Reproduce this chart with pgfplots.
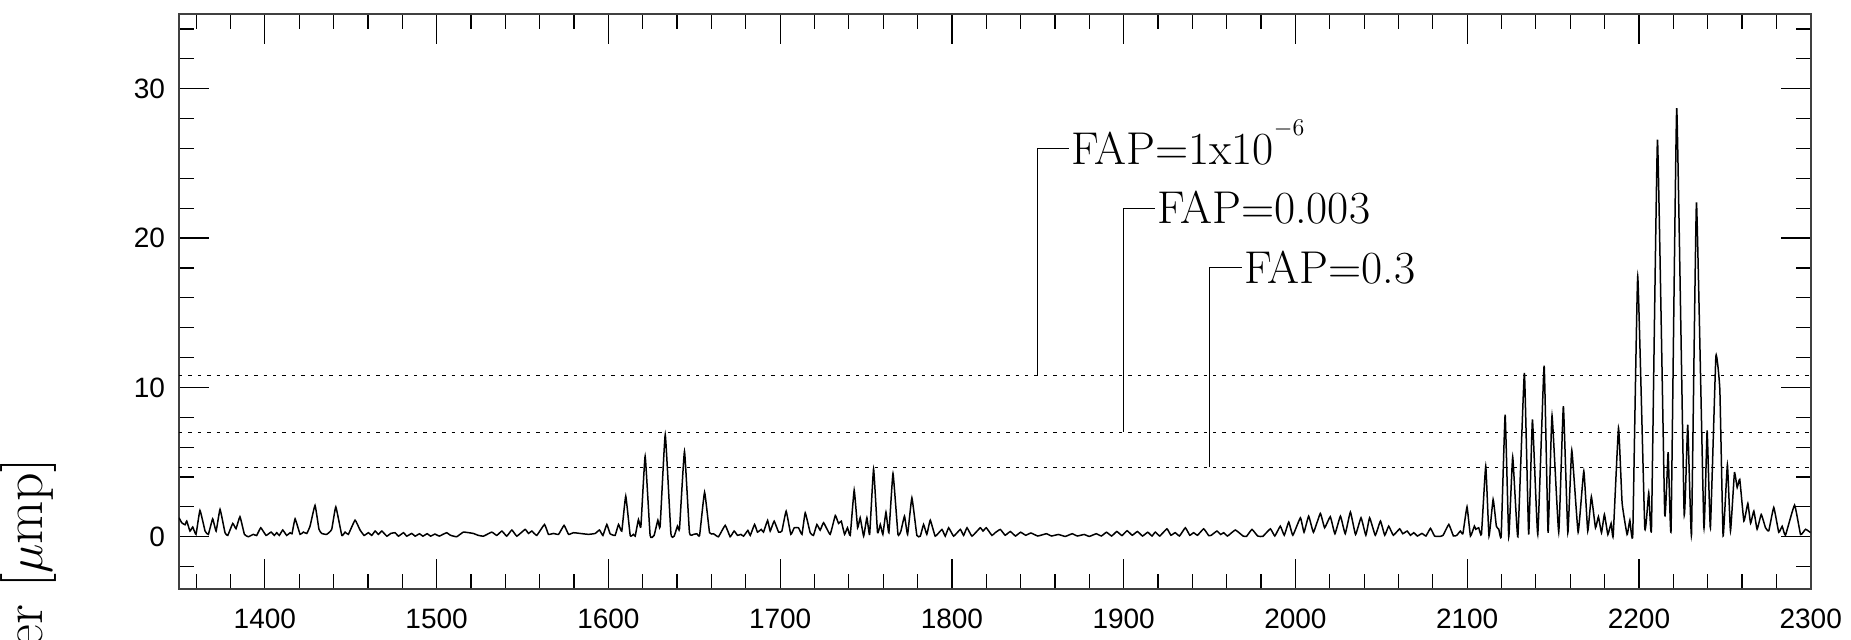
\documentclass[border=0pt]{standalone}
\usepackage{fontspec}
\usepackage{pgfplots}
\pgfplotsset{compat=1.18}
\newfontfamily\arial{Liberation Sans}
\begin{document}
\begin{tikzpicture}
\begin{axis}[
  at={(0,0)}, anchor=south west,
  scale only axis, width=815.85pt, height=287.5pt,
  xmin=1350, xmax=2300, ymin=-3.5, ymax=35,
  xtick={1400,1500,...,2300},
  minor xtick={1360,1380,...,2280},
  ytick={0,10,20,30},
  minor ytick={-2,2,4,6,8,12,14,16,18,22,24,26,28,32,34},
  tick align=inside,
  major tick length=15pt, minor tick length=7.5pt,
  tick style={black, line width=0.6pt},
  axis line style={line width=1pt, black!75},
  ticklabel style={font=\arial\fontsize{14}{16}\selectfont},
  /pgf/number format/assume math mode=true,
  /pgf/number format/1000 sep={},
  xticklabel style={yshift=-6.5pt},
  yticklabel style={xshift=-3.5pt},
]
% FAP levels
\addplot[black, line width=0.5pt, dash pattern=on 1.7pt off 3pt] coordinates {(1350,10.8) (2300,10.8)};
\addplot[black, line width=0.5pt, dash pattern=on 1.7pt off 3pt] coordinates {(1350,7.0) (2300,7.0)};
\addplot[black, line width=0.5pt, dash pattern=on 1.7pt off 3pt] coordinates {(1350,4.65) (2300,4.65)};
% leaders
\addplot[black, line width=0.5pt] coordinates {(1850,10.8) (1850,26) (1868,26)};
\addplot[black, line width=0.5pt] coordinates {(1900,7.0) (1900,22) (1918,22)};
\addplot[black, line width=0.5pt] coordinates {(1950,4.65) (1950,18) (1969,18)};
\node[anchor=base west, inner sep=0, xshift=1.2pt, yshift=-7.9pt, font=\fontsize{23}{23}\selectfont] at (axis cs:1868,26) {FAP=1x10\raisebox{0.62em}{\fontsize{12}{12}\selectfont$-$6}};
\node[anchor=base west, inner sep=0, xshift=1.2pt, yshift=-7.9pt, font=\fontsize{23}{23}\selectfont] at (axis cs:1918,22) {FAP=0.003};
\node[anchor=base west, inner sep=0, xshift=1.2pt, yshift=-7.9pt, font=\fontsize{23}{23}\selectfont] at (axis cs:1969,18) {FAP=0.3};
% periodogram
\addplot[black, line width=0.75pt, smooth, tension=0.2] coordinates {
(1350,1.27) (1351.6,0.94) (1353.5,0.8) (1354.5,1.05) (1356.4,0.38) (1358,0.65) (1359.9,0.16)
(1362.2,1.76) (1365.2,0.38) (1367.1,0.16) (1369.6,1.2) (1371.6,0.38) (1373.9,1.83) (1376.8,0.27)
(1378.4,0.09) (1381.3,0.89) (1383.2,0.54) (1385.5,1.34) (1388.1,0.16) (1390.4,0.0) (1393.3,0.16)
(1395.2,0.08) (1397.6,0.6) (1400.7,0.09) (1403.6,0.31) (1405.5,0.09) (1406.9,0.27) (1408.4,0.09)
(1410.4,0.45) (1412.7,0.09) (1414.7,0.27) (1415.8,0.2) (1417.6,1.2) (1420.5,0.16) (1422.4,0.31)
(1424.4,0.22) (1426.3,0.71) (1429.2,2.1) (1431.5,0.5) (1433.1,0.22) (1436,0.16) (1438.9,0.49)
(1441.3,2.0) (1444.8,0.09) (1446.7,0.31) (1448.6,0.16) (1452.5,1.11) (1455.4,0.45) (1457.8,0.09)
(1460.3,0.27) (1462.2,0.09) (1464.2,0.38) (1466.1,0.16) (1468.1,0.38) (1471,0.04) (1473.3,0.22)
(1475.8,0.27) (1477.8,0.04) (1480.7,0.27) (1482.6,0.04) (1485.5,0.22) (1487.5,0.04) (1490,0.2)
(1492,0.04) (1494.5,0.2) (1496.5,0.04) (1499,0.18) (1501.5,0.04) (1503.5,0.15) (1505.9,0.27)
(1508,0.1) (1511.7,0.0) (1515.6,0.31) (1521.4,0.22) (1524,0.1) (1527.3,0.04) (1532.1,0.31)
(1535,0.09) (1538,0.38) (1540.8,0.04) (1543.8,0.45) (1546.7,0.04) (1551.5,0.49) (1553.5,0.22)
(1555.4,0.38) (1558.3,0.09) (1562.8,0.82) (1565.1,0.16) (1568,0.22) (1571,0.16) (1574.2,0.76)
(1576.8,0.16) (1579.7,0.27) (1583.6,0.22) (1588.4,0.16) (1592.3,0.22) (1594.8,0.45) (1596.8,0.09)
(1599.1,0.82) (1601,0.2) (1603.9,0.09) (1605.9,0.82) (1607.8,0.38) (1610.1,2.72) (1612.7,0.09)
(1614.6,0.16) (1615.6,0.04) (1617.5,1.15) (1618.9,0.66) (1621.4,5.39) (1624.3,0.09) (1626.6,0.09)
(1628.8,1.11) (1630.1,0.66) (1633.1,6.84) (1636.4,0.2) (1638.3,0.04) (1640.2,0.71) (1641.4,0.53)
(1644.3,5.72) (1647.2,0.27) (1649.6,0.16) (1651.5,0.2) (1653.1,0.09) (1656,2.98) (1658.9,0.27)
(1661.2,0.2) (1664.1,0.0) (1668,0.76) (1670.9,0.0) (1673.2,0.38) (1675.2,0.09) (1677.1,0.16)
(1678.7,0.04) (1681.2,0.42) (1682.6,0.09) (1685.1,0.82) (1686.8,0.31) (1689,0.49) (1690.3,0.31)
(1692.7,1.09) (1694.2,0.38) (1696.5,1.04) (1699.1,0.31) (1701,0.38) (1703.5,1.71) (1706.2,0.16)
(1708.2,0.6) (1710.7,0.6) (1712.7,0.16) (1714.6,1.6) (1717.5,0.27) (1719.4,0.09) (1721.4,0.82)
(1723.3,0.44) (1725.3,0.94) (1729.1,0.16) (1732.1,1.42) (1734,0.89) (1735.6,1.04) (1737.5,0.16)
(1739.2,0.6) (1740.8,0.09) (1743.1,3.12) (1745.1,0.6) (1746.6,1.27) (1748.6,0.04) (1750.5,1.27)
(1752.1,0.16) (1754.4,4.54) (1756.7,0.27) (1758.3,0.82) (1759.8,0.16) (1761.6,1.64) (1763.3,0.27)
(1765.7,4.23) (1768.6,0.16) (1770.3,0.38) (1772.4,1.38) (1774.2,0.16) (1776.7,2.6) (1779.6,0.09)
(1781.6,0.04) (1783.5,0.82) (1785.4,0.16) (1787.4,1.11) (1790.3,0.04) (1794.2,0.49) (1796.1,0.04)
(1798.1,0.6) (1801,0.04) (1804.9,0.49) (1806.8,0.09) (1808.8,0.6) (1811.7,0.04) (1816.5,0.6)
(1818.1,0.38) (1820,0.6) (1823.3,0.09) (1825.2,0.27) (1828.2,0.49) (1831,0.1) (1834,0.35)
(1837,0.05) (1840,0.3) (1843,0.1) (1846,0.25) (1850,0.05) (1855,0.2) (1858,0.05) (1862,0.15)
(1866,0.02) (1870,0.2) (1873,0.05) (1877,0.15) (1880,0.02) (1884,0.2) (1887,0.05) (1890,0.3)
(1893,0.05) (1896,0.35) (1899,0.08) (1902,0.4) (1905,0.1) (1908,0.35) (1911,0.05) (1914,0.3)
(1916.5,0.05) (1918.4,0.31) (1921,0.05) (1925.2,0.53) (1927.5,0.1) (1930,0.27) (1932.5,0.05)
(1935.9,0.6) (1938.5,0.1) (1940.7,0.27) (1943,0.1) (1946.6,0.53) (1949.5,0.08) (1951,0.1)
(1954.3,0.38) (1956.5,0.15) (1958.2,0.27) (1960.5,0.05) (1965,0.45) (1969.5,0.05) (1971.5,0.02)
(1974.7,0.49) (1978,0.05) (1981,0.02) (1985.4,0.53) (1988,0.05) (1991.2,0.71) (1993.5,0.1)
(1996.1,0.98) (1998.5,0.1) (2002.9,1.27) (2005,0.3) (2007.7,1.38) (2010.5,0.3) (2014.5,1.56)
(2017,0.6) (2020.3,1.34) (2023,0.2) (2026.2,1.38) (2029,0.2) (2032,1.65) (2035,0.15)
(2038.2,1.27) (2041,0.1) (2043.2,1.27) (2046.5,0.1) (2049.5,1.05) (2052,0.1) (2054.3,0.71)
(2057,0.1) (2060.7,0.53) (2062.5,0.2) (2065,0.38) (2067,0.1) (2068.9,0.27) (2071,0.05)
(2073.7,0.22) (2076,0.05) (2078.6,0.56) (2081,0.05) (2084,0.02) (2086,0.1) (2089.3,0.82)
(2092,0.05) (2094,0.1) (2096,0.38) (2097.5,0.2) (2099.9,2.0) (2101.9,0.05) (2104.2,0.71)
(2105,0.5) (2106.7,0.6) (2108.3,0.15) (2110.8,4.73) (2112.7,0.05) (2115.1,2.5) (2117,0.7)
(2118.4,0.5) (2119.8,0.05) (2122.1,8.18) (2124.2,0.0) (2126.5,5.35) (2129.5,0.0) (2133.3,10.97)
(2135.8,0.15) (2138,7.85) (2141.1,0.15) (2144.8,11.46) (2147.1,0.27) (2149.4,8.12) (2153.3,0.3)
(2156,8.74) (2158.6,0.27) (2160.9,5.8) (2164.6,0.3) (2167.9,4.4) (2170.2,0.38) (2172.3,2.68)
(2174.7,0.6) (2176.4,1.34) (2178.2,0.27) (2179.9,1.49) (2181.9,0.15) (2183.8,0.9) (2185,0.05)
(2188.1,7.29) (2190.2,2.27) (2193.1,0.15) (2194.7,1.1) (2196.4,0.15) (2199.3,17.44) (2203.4,0.6)
(2205.7,2.95) (2207.3,0.6) (2210.8,26.58) (2215,1.56) (2217,5.66) (2218.7,0.45) (2222,28.7)
(2226.3,1.56) (2228.4,7.5) (2230.6,0.15) (2233.5,22.39) (2237.8,0.65) (2239.7,7.11) (2241.6,0.6)
(2244.8,12.09) (2247.1,9.86) (2249,0.05) (2251.5,4.82) (2253.3,0.38) (2255.6,4.28) (2257.2,3.3)
(2258.7,3.84) (2261.1,1.05) (2263.4,2.23) (2265,0.9) (2266.9,1.72) (2268.8,0.5) (2271.2,1.49)
(2273.7,0.6) (2275.6,0.4) (2278.5,1.96) (2281.4,0.3) (2283.4,0.7) (2285.3,0.1) (2290.6,2.12)
(2294.1,0.15) (2297,0.5) (2300,0.27)
};
\end{axis}
\node[rotate=90, anchor=base east, inner sep=0, font=\fontsize{28}{28}\selectfont] at (-68pt,65.5pt) {Power [$\mu$mp]};
\pgfresetboundingbox
\useasboundingbox (-89.5pt,-25pt) rectangle (836pt,294.5pt);
\end{tikzpicture}
\end{document}
